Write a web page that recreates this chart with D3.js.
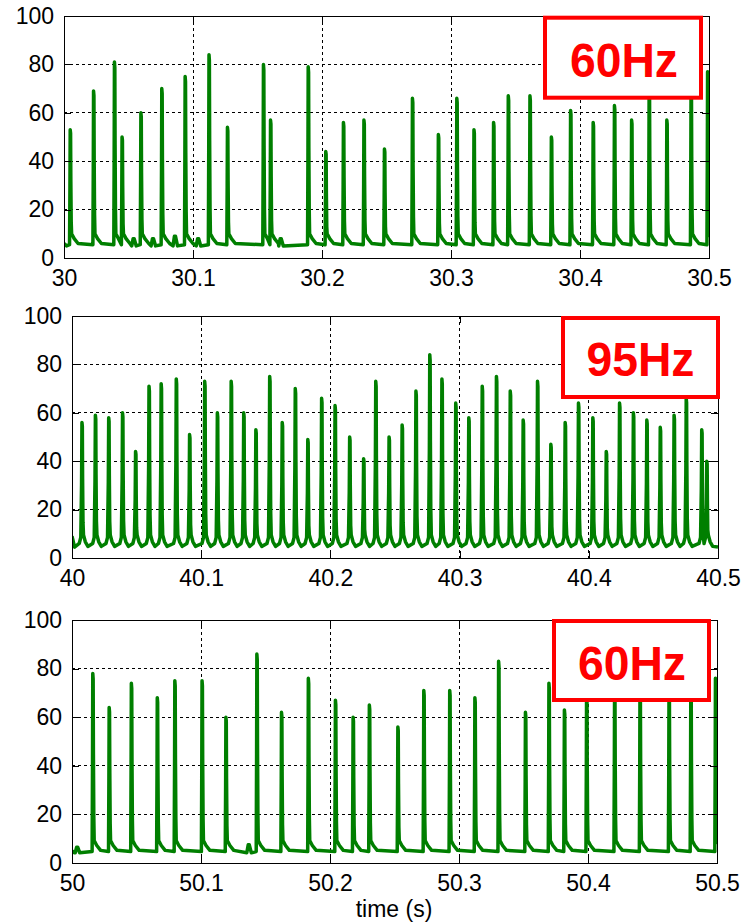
<!DOCTYPE html>
<html>
<head>
<meta charset="utf-8">
<script src="https://cdn.jsdelivr.net/npm/d3@7"></script>
<style>
  body { margin: 0; background: #fff; }
  svg { display: block; font-family: "Liberation Sans", Arial, sans-serif; }
</style>
</head>
<body>
<div id="chart"></div>
<script>
// ---- data ----
const yTicks = [0, 20, 40, 60, 80, 100];

const xTicks1 = [30, 30.1, 30.2, 30.3, 30.4, 30.5];
const spikeTimes1 = [30.0049, 30.0230, 30.0392, 30.0451, 30.0597, 30.0759, 30.0940, 30.1125, 30.1268, 30.1547,
  30.1602, 30.1894, 30.2030, 30.2167, 30.2326, 30.2485, 30.2702, 30.2903, 30.3046, 30.3179,
  30.3331, 30.3445, 30.3613, 30.3779, 30.3928, 30.4103, 30.4268, 30.4401, 30.4537, 30.4674,
  30.4862, 30.4990];
const spikePeaks1 = [53, 69, 81, 50, 60, 70, 75, 84, 54, 80,
  57, 79, 44, 56, 57, 45, 66, 51, 66, 53,
  56, 67, 67, 50, 61, 56, 63, 57, 72, 57,
  72, 77];
const bumpTimes1 = [30.0540, 30.0690, 30.0860, 30.1040, 30.1680];
const bumpPeaks1 = [8, 8, 9, 8, 8];

const xTicks2 = [40, 40.1, 40.2, 40.3, 40.4, 40.5];
const spikeTimes2 = [40.0078, 40.0182, 40.0285, 40.0392, 40.0493, 40.0597, 40.0691, 40.0808, 40.0911, 40.1028,
  40.1126, 40.1233, 40.1330, 40.1424, 40.1531, 40.1628, 40.1729, 40.1826, 40.1933, 40.2037,
  40.2150, 40.2258, 40.2352, 40.2455, 40.2556, 40.2663, 40.2770, 40.2864, 40.2971, 40.3072,
  40.3176, 40.3286, 40.3393, 40.3493, 40.3604, 40.3707, 40.3818, 40.3921, 40.4032, 40.4136,
  40.4239, 40.4346, 40.4450, 40.4554, 40.4661, 40.4755, 40.4875, 40.4914];
const spikePeaks2 = [56, 59, 58, 60, 44, 71, 72, 74, 51, 73,
  60, 73, 60, 53, 75, 56, 70, 49, 66, 63,
  50, 41, 73, 50, 55, 69, 84, 74, 64, 58,
  71, 75, 69, 57, 73, 47, 56, 64, 58, 44,
  64, 60, 57, 54, 59, 66, 53, 40];
const bumpTimes2 = [];
const bumpPeaks2 = [];

const xTicks3 = [50, 50.1, 50.2, 50.3, 50.4, 50.5];
const spikeTimes3 = [50.0162, 50.0289, 50.0461, 50.0662, 50.0798, 50.1009, 50.1194, 50.1434, 50.1625, 50.1833,
  50.2043, 50.2180, 50.2306, 50.2527, 50.2728, 50.2929, 50.3124, 50.3308, 50.3516, 50.3698,
  50.3818, 50.3990, 50.4207, 50.4404, 50.4629, 50.4798, 50.4989];
const spikePeaks3 = [78, 64, 74, 68, 75, 75, 60, 86, 62, 76,
  67, 60, 65, 56, 71, 71, 68, 83, 62, 74,
  63, 72, 72, 74, 72, 74, 76];
const bumpTimes3 = [50.0040, 50.1370];
const bumpPeaks3 = [6.5, 7.5];

const baseLevels = [5, 4.5, 4.2];
const startLevels = [6, 9, 5];
const rateLabels = ["60Hz", "95Hz", "60Hz"];

// spike outline: [offset (s), fraction of peak above base, offset above base]
const shape60 = [[-0.0006, 0, 0.5], [-0.0003, 0.5, 0], [-0.0001, 1, 0], [0.0002, 0.97, 0],
  [0.0004, 0.55, 0], [0.0007, 0.2, 0], [0.0010, 0, 5], [0.0030, 0, 3], [0.0060, 0, 1]];
const shape95 = [[-0.0022, 0, 1.5], [-0.0010, 0, 4], [-0.0004, 0.5, 0], [-0.0001, 1, 0], [0.0002, 0.97, 0],
  [0.0004, 0.55, 0], [0.0007, 0.2, 0], [0.0011, 0, 5], [0.0025, 0, 2.2], [0.0045, 0, 0.3]];

// ---- layout ----
const width = 742, height = 924;
const panels = [
  { times: spikeTimes1, peaks: spikePeaks1, bumps: bumpTimes1, bumpPeaks: bumpPeaks1, ticks: xTicks1, shape: shape60,
    left: 64, right: 709, top: 16, bottom: 258,
    box: { x: 545, y: 17.7, w: 156, h: 80 }, labelX: 624, labelY: 77 },
  { times: spikeTimes2, peaks: spikePeaks2, bumps: bumpTimes2, bumpPeaks: bumpPeaks2, ticks: xTicks2, shape: shape95,
    left: 72, right: 718, top: 316, bottom: 558,
    box: { x: 563, y: 318, w: 155, h: 79 }, labelX: 640.5, labelY: 376 },
  { times: spikeTimes3, peaks: spikePeaks3, bumps: bumpTimes3, bumpPeaks: bumpPeaks3, ticks: xTicks3, shape: shape60,
    left: 72, right: 717, top: 620, bottom: 863,
    box: { x: 554, y: 621, w: 155, h: 79 }, labelX: 632, labelY: 680 }
];

const svg = d3.select("#chart")
  .append("svg")
  .attr("width", width)
  .attr("height", height)
  .attr("viewBox", `0 0 ${width} ${height}`);

svg.append("rect").attr("width", width).attr("height", height).attr("fill", "#fff");

function buildTrace(p, i) {
  const base = baseLevels[i];
  const domain = [p.ticks[0], p.ticks[p.ticks.length - 1]];
  const pts = [[domain[0], startLevels[i]], [domain[0] + 0.002, base]];
  p.times.forEach((t, k) => {
    const next = k < p.times.length - 1 ? p.times[k + 1] + p.shape[0][0] : Infinity;
    p.shape.forEach(([dt, f, add]) => {
      const tt = t + dt;
      if (tt < next) pts.push([tt, base + f * (p.peaks[k] - base) + add]);
    });
  });
  p.bumps.forEach((t, k) => {
    pts.push([t - 0.0015, base], [t - 0.0004, p.bumpPeaks[k]], [t + 0.0004, p.bumpPeaks[k]], [t + 0.002, base]);
  });
  pts.sort((a, b) => a[0] - b[0]);
  if (pts[pts.length - 1][0] < domain[1]) pts.push([domain[1], base]);
  return pts;
}

panels.forEach((p, i) => {
  const x = d3.scaleLinear().domain([p.ticks[0], p.ticks[p.ticks.length - 1]]).range([p.left, p.right]);
  const y = d3.scaleLinear().domain([0, 100]).range([p.bottom, p.top]);
  const g = svg.append("g").attr("class", "panel");

  // clip
  svg.append("clipPath").attr("id", `clip${i}`)
    .append("rect")
    .attr("x", p.left).attr("y", p.top)
    .attr("width", p.right - p.left).attr("height", p.bottom - p.top);

  // grid
  g.selectAll("line.vgrid")
    .data(p.ticks.slice(1, -1))
    .enter().append("line")
    .attr("class", "vgrid")
    .attr("x1", d => x(d)).attr("x2", d => x(d))
    .attr("y1", p.top).attr("y2", p.bottom)
    .attr("stroke", "#000").attr("stroke-width", 1).attr("stroke-dasharray", "3,3")
    .attr("shape-rendering", "crispEdges");
  g.selectAll("line.hgrid")
    .data(yTicks.slice(1, -1))
    .enter().append("line")
    .attr("class", "hgrid")
    .attr("x1", p.left).attr("x2", p.right)
    .attr("y1", d => y(d)).attr("y2", d => y(d))
    .attr("stroke", "#000").attr("stroke-width", 1).attr("stroke-dasharray", "3,3")
    .attr("shape-rendering", "crispEdges");

  // trace
  const line = d3.line().x(d => x(d[0])).y(d => y(d[1]));
  g.append("path")
    .datum(buildTrace(p, i))
    .attr("clip-path", `url(#clip${i})`)
    .attr("fill", "none")
    .attr("stroke", "#007f00")
    .attr("stroke-width", 3.5)
    .attr("stroke-linejoin", "round")
    .attr("d", line);

  // axes (inward ticks)
  const fmt = d => String(+d.toFixed(1));
  const bottom = g.append("g")
    .attr("transform", `translate(0,${p.bottom})`)
    .call(d3.axisBottom(x).tickValues(p.ticks).tickFormat(fmt).tickSizeInner(-7).tickSizeOuter(0).tickPadding(12));
  const left = g.append("g")
    .attr("transform", `translate(${p.left},0)`)
    .call(d3.axisLeft(y).tickValues(yTicks).tickSizeInner(-7).tickSizeOuter(0).tickPadding(10));
  g.append("g")
    .attr("transform", `translate(0,${p.top})`)
    .call(d3.axisTop(x).tickValues(p.ticks).tickFormat("").tickSizeInner(-7).tickSizeOuter(0));
  g.append("g")
    .attr("transform", `translate(${p.right},0)`)
    .call(d3.axisRight(y).tickValues(yTicks).tickFormat("").tickSizeInner(-7).tickSizeOuter(0));
  g.selectAll(".domain").remove();
  g.selectAll(".tick line").attr("stroke", "#000").attr("shape-rendering", "crispEdges");
  [bottom, left].forEach(a => a.selectAll("text")
    .style("font-size", "23px")
    .style("font-family", "'Liberation Sans', Arial, sans-serif")
    .attr("fill", "#000"));

  // axes box
  g.append("rect")
    .attr("x", p.left).attr("y", p.top)
    .attr("width", p.right - p.left).attr("height", p.bottom - p.top)
    .attr("fill", "none").attr("stroke", "#000").attr("stroke-width", 1)
    .attr("shape-rendering", "crispEdges");

  // frequency label box
  g.append("rect")
    .attr("x", p.box.x).attr("y", p.box.y)
    .attr("width", p.box.w).attr("height", p.box.h)
    .attr("fill", "#fff").attr("stroke", "#ff0000").attr("stroke-width", 4);
  g.append("text")
    .attr("x", p.labelX).attr("y", p.labelY)
    .attr("text-anchor", "middle")
    .attr("textLength", 108)
    .attr("lengthAdjust", "spacingAndGlyphs")
    .style("font-size", "49px")
    .style("font-weight", "bold")
    .attr("fill", "#ff0000")
    .text(rateLabels[i]);
});

// x axis title on the last panel
svg.append("text")
  .attr("x", 394).attr("y", 917)
  .attr("text-anchor", "middle")
  .style("font-size", "23px")
  .attr("fill", "#000")
  .text("time (s)");
</script>
</body>
</html>
